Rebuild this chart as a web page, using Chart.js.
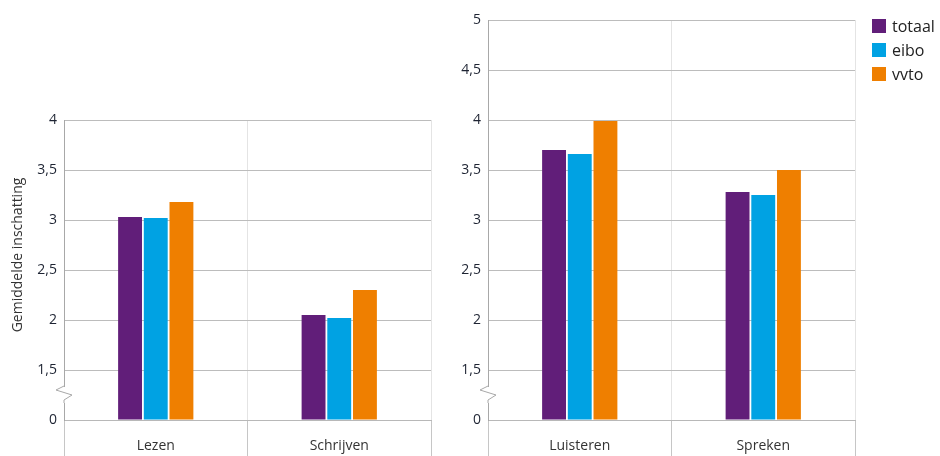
<!DOCTYPE html>
<html>
<head>
<meta charset="utf-8">
<script src="https://cdn.jsdelivr.net/npm/chart.js@4"></script>
<style>
  html, body { margin: 0; padding: 0; background: #fff; overflow: hidden; }
  #wrap { position: relative; width: 940px; height: 456px; }
  #leftChart { position: absolute; left: 0; top: 0; width: 440px; height: 456px; }
  #rightChart { position: absolute; left: 440px; top: 0; width: 500px; height: 456px; }
  #legend { position: absolute; left: 872px; top: 19px; font: 16px "Open Sans", "DejaVu Sans", sans-serif; color: #222; }
  #legend .item { display: flex; align-items: center; height: 14px; margin-bottom: 10px; white-space: nowrap; }
  #legend .box { width: 14px; height: 14px; margin-right: 6px; }
</style>
</head>
<body>
<div id="wrap">
  <canvas id="leftChart" width="440" height="456"></canvas>
  <canvas id="rightChart" width="500" height="456"></canvas>
  <div id="legend"></div>
</div>
<script>
// Gemiddelde inschatting per vaardigheid (two panels, y axis broken between 0 and 1,5)

const seriesNames = ['totaal', 'eibo', 'vvto'];
const seriesColors = ['#611e79', '#00a2e3', '#ef7f00'];

const leftCategories = ['Lezen', 'Schrijven'];
const leftTotaal = [3.03, 2.05];
const leftEibo = [3.02, 2.02];
const leftVvto = [3.18, 2.30];
const leftTicks = ['0', '1,5', '2', '2,5', '3', '3,5', '4'];

const rightCategories = ['Luisteren', 'Spreken'];
const rightTotaal = [3.70, 3.28];
const rightEibo = [3.66, 3.25];
const rightVvto = [3.99, 3.50];
const rightTicks = ['0', '1,5', '2', '2,5', '3', '3,5', '4', '4,5', '5'];

// the "0" tick sits at 1 on the scale, so the break fits between 1 and 1,5
const axisBottom = 1;

const FONT = '"Open Sans", "DejaVu Sans", sans-serif';

/**
 * Zigzag break on the y axis between 0 and 1,5
 */
const axisBreakPlugin = {
  id: 'axisBreak',
  afterDraw(chart) {
    const ctx = chart.ctx;
    const y = chart.scales.y;
    const x = chart.chartArea.left;
    const mid = y.getPixelForValue(axisBottom + 0.25);
    ctx.save();
    ctx.fillStyle = '#fff';
    ctx.fillRect(x - 2, mid - 8, 4, 16);
    ctx.strokeStyle = '#a8a8a8';
    ctx.lineWidth = 1;
    ctx.beginPath();
    ctx.moveTo(x, mid - 9);
    ctx.lineTo(x - 8, mid - 5);
    ctx.lineTo(x + 8, mid);
    ctx.lineTo(x, mid + 5);
    ctx.lineTo(x, mid + 8);
    ctx.stroke();
    ctx.restore();
  }
};

/**
 * Rotated y title, placed a bit above the middle like the original
 */
const yTitlePlugin = {
  id: 'yTitle',
  afterDraw(chart, args, opts) {
    if (!opts.text) return;
    const ctx = chart.ctx;
    ctx.save();
    ctx.translate(opts.x, opts.y);
    ctx.rotate(-Math.PI / 2);
    ctx.textAlign = 'center';
    ctx.textBaseline = 'middle';
    ctx.font = '14px ' + FONT;
    ctx.fillStyle = '#333';
    ctx.fillText(opts.text, 0, 0);
    ctx.restore();
  }
};

function buildDatasets(totaal, eibo, vvto) {
  return [totaal, eibo, vvto].map((values, i) => ({
    label: seriesNames[i],
    data: values,
    base: axisBottom,
    backgroundColor: seriesColors[i],
    borderWidth: 0,
    categoryPercentage: 0.42,
    barPercentage: 0.93
  }));
}

function buildOptions(cfg) {
  return {
    responsive: false,
    animation: false,
    layout: { padding: cfg.padding },
    scales: {
      x: {
        grid: {
          color: '#e4e4e4',
          tickColor: '#c6c6c6',
          tickLength: 36,
          offset: true
        },
        border: { color: '#b8b8b8' },
        ticks: {
          padding: -18,
          color: '#333',
          font: { size: 14, family: FONT }
        },
        afterFit: s => { s.height = 36; }
      },
      y: {
        min: axisBottom,
        max: cfg.yMax,
        ticks: {
          stepSize: 0.5,
          padding: 7,
          color: '#1e2433',
          font: { size: 14, family: FONT },
          callback: (value, index) => cfg.tickLabels[index]
        },
        grid: { color: '#bcbcbc', drawTicks: false },
        border: { color: '#a8a8a8' },
        afterFit: s => { s.width = cfg.axisWidth; }
      }
    },
    plugins: {
      legend: { display: false },
      tooltip: { enabled: false },
      yTitle: cfg.title || {}
    }
  };
}

new Chart(document.getElementById('leftChart'), {
  type: 'bar',
  data: {
    labels: leftCategories,
    datasets: buildDatasets(leftTotaal, leftEibo, leftVvto)
  },
  options: buildOptions({
    yMax: 4,
    tickLabels: leftTicks,
    axisWidth: 64,
    padding: { top: 120, right: 9, left: 0, bottom: 0 },
    title: { text: 'Gemiddelde inschatting', x: 18, y: 255 }
  }),
  plugins: [axisBreakPlugin, yTitlePlugin]
});

const rightChart = new Chart(document.getElementById('rightChart'), {
  type: 'bar',
  data: {
    labels: rightCategories,
    datasets: buildDatasets(rightTotaal, rightEibo, rightVvto)
  },
  options: buildOptions({
    yMax: 5,
    tickLabels: rightTicks,
    axisWidth: 48,
    padding: { top: 20, right: 85, left: 0, bottom: 0 }
  }),
  plugins: [axisBreakPlugin, yTitlePlugin]
});

// HTML legend built from the chart's own label items
const legendEl = document.getElementById('legend');
rightChart.options.plugins.legend.labels.generateLabels(rightChart).forEach(item => {
  const row = document.createElement('div');
  row.className = 'item';
  const box = document.createElement('span');
  box.className = 'box';
  box.style.background = item.fillStyle;
  row.appendChild(box);
  row.appendChild(document.createTextNode(item.text));
  legendEl.appendChild(row);
});
</script>
</body>
</html>
